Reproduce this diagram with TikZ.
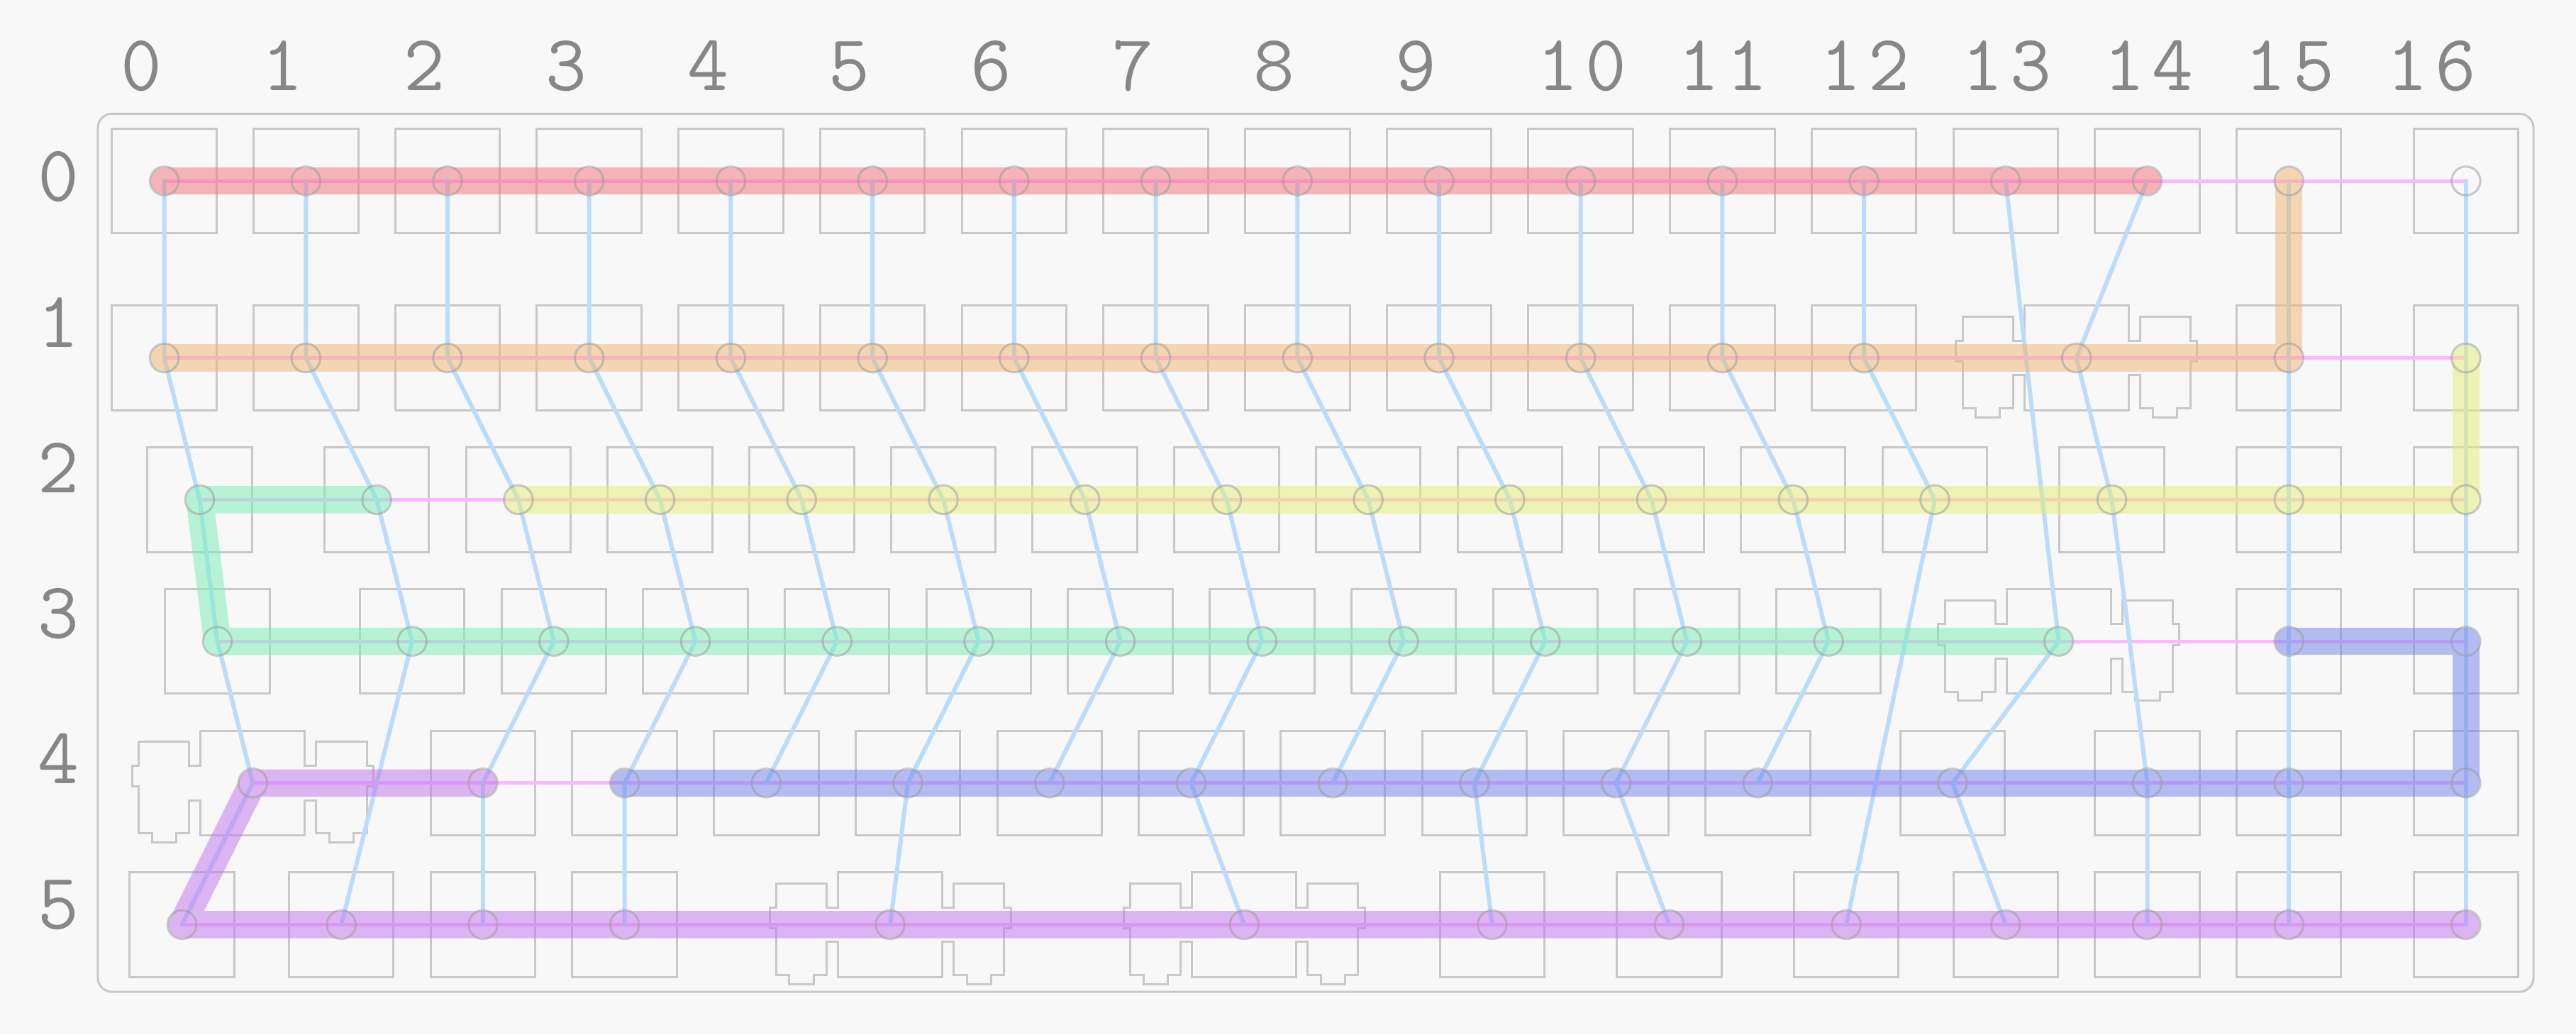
\documentclass[tikz,border=0pt]{standalone}
\usepackage{fontspec}
\newfontfamily\labfont[LetterSpace=9]{Latin Modern Mono}
\pgfdeclarelayer{wires}
\pgfdeclarelayer{pads}
\pgfsetlayers{main,wires,pads}

\definecolor{pagebg}{HTML}{F8F8F8}
\definecolor{labgray}{HTML}{878787}
\definecolor{linegray}{HTML}{999999}
\definecolor{rowpink}{HTML}{FBB8FB}
\definecolor{colblue}{HTML}{BBDCFB}
\definecolor{bandred}{HTML}{F0707A}
\definecolor{bandorange}{HTML}{F0B472}
\definecolor{bandyellow}{HTML}{E6EE74}
\definecolor{bandgreen}{HTML}{78EEB8}
\definecolor{bandindigo}{HTML}{7080EA}
\definecolor{bandpurple}{HTML}{C074EC}

\tikzset{
	keyline/.style={draw=linegray,draw opacity=.5,line width=.03cm},
	keybox/.style={keyline,rectangle,inner sep=0pt,minimum size=1.475cm},
	swpad/.style={keyline,circle,inner sep=0pt,minimum size=.405cm},
	plate/.style={draw=linegray,draw opacity=.5,line width=.03cm,rounded corners=.2cm},
	rowwire/.style={draw=rowpink,line width=.05cm,line cap=round},
	colwire/.style={draw=colblue,line width=.06cm,line cap=round,line join=round},
	band/.style={draw=#1,draw opacity=.5,line width=.385cm,line cap=round,line join=round},
	collab/.style={anchor=base west,inner sep=0pt,text=labgray,font=\labfont\fontsize{32}{32}\selectfont},
	rowlab/.style={anchor=base,inner sep=0pt,text=labgray,font=\ttfamily\fontsize{32}{32}\selectfont}
}

% Contorn d'una tecla amb estabilitzadors
\newcommand{\stabkey}[1]{
	\draw[keyline,shift={(#1)},x=.01cm,y=-.01cm]
	(-73.5,-73.7) -- (73.5,-73.7) -- (73.5,-24.3) -- (89.5,-24.3) -- (89.5,-58) -- (160.7,-58)
	-- (160.7,-24.3) -- (170,-24.3) -- (170,5) -- (160.7,5) -- (160.7,71) -- (142.4,71)
	-- (142.4,83.8) -- (108,83.8) -- (108,71) -- (89.5,71) -- (89.5,24.3) -- (73.5,24.3)
	-- (73.5,73.7) -- (-73.5,73.7) -- (-73.5,24.3) -- (-89.5,24.3) -- (-89.5,71) -- (-108,71)
	-- (-108,83.8) -- (-142.4,83.8) -- (-142.4,71) -- (-160.7,71) -- (-160.7,5) -- (-170,5)
	-- (-170,-24.3) -- (-160.7,-24.3) -- (-160.7,-58) -- (-89.5,-58) -- (-89.5,-24.3)
	-- (-73.5,-24.3) -- cycle;
}

\begin{document}
\begin{tikzpicture}[x=1.997cm,y=-1.997cm]
	
	% Fons i placa
	\fill[pagebg] (-1.1597,-1.2769) rectangle (17.027,6.024);
	\draw[plate] (-.469,-.474) rectangle (16.727,5.724);
	
	% Etiquetes de columna i de fila
	\foreach \cl in {0,...,16}
	\node[collab] (clabel\cl) at (\cl-.311,-.641) {\cl};
	\foreach \rw in {0,...,5}
	\node[rowlab] (rlabel\rw) at (-.749,{.145+1.0275*\rw}) {\rw};
	
	% Tecles quadrades amb el seu punt
	\foreach \rw/\ypos/\cols in {
		0/0/{0/0,1/1,2/2,3/3,4/4,5/5,6/6,7/7,8/8,9/9,10/10,11/11,12/12,13/13,14/14,15/15,16/16.25},
		1/1.25/{0/0,1/1,2/2,3/3,4/4,5/5,6/6,7/7,8/8,9/9,10/10,11/11,12/12,15/15,16/16.25},
		2/2.25/{0/.25,1/1.5,2/2.5,3/3.5,4/4.5,5/5.5,6/6.5,7/7.5,8/8.5,9/9.5,10/10.5,11/11.5,12/12.5,14/13.75,15/15,16/16.25},
		3/3.25/{0/.375,1/1.75,2/2.75,3/3.75,4/4.75,5/5.75,6/6.75,7/7.75,8/8.75,9/9.75,10/10.75,11/11.75,15/15,16/16.25},
		4/4.25/{2/2.25,3/3.25,4/4.25,5/5.25,6/6.25,7/7.25,8/8.25,9/9.25,10/10.25,11/11.25,13/12.625,14/14,15/15,16/16.25},
		5/5.25/{0/.125,1/1.25,2/2.25,3/3.25,9/9.375,10/10.625,12/11.875,13/13,14/14,15/15,16/16.25}}
	{
		\foreach \cl/\xpos in \cols
		{
			\node[keybox] (k\rw-\cl) at (\xpos,\ypos) {};
			\begin{pgfonlayer}{pads}
				\node[swpad] (m\rw-\cl) at (\xpos,\ypos) {};
			\end{pgfonlayer}
		}
	}
	
	% Tecles amb estabilitzadors
	\foreach \rw/\ypos/\cl/\xpos in {1/1.25/14/13.5,3/3.25/13/13.375,4/4.25/0/.625,5/5.25/5/5.125,5/5.25/7/7.625}
	{
		\begin{pgfonlayer}{pads}
			\node[swpad] (m\rw-\cl) at (\xpos,\ypos) {};
		\end{pgfonlayer}
		\stabkey{m\rw-\cl}
	}
	
	\begin{pgfonlayer}{wires}
		
		% Files
		\foreach \rw in {0,...,5}
		\draw[rowwire] (m\rw-0.center) -- (m\rw-16.center);
		
		% Columnes
		\foreach \cl/\rows in {0/{1,2,3,4,5},1/{1,2,3,5},2/{1,2,3,4,5},3/{1,2,3,4,5},4/{1,2,3,4},
			5/{1,2,3,4,5},6/{1,2,3,4},7/{1,2,3,4,5},8/{1,2,3,4},9/{1,2,3,4,5},10/{1,2,3,4,5},
			11/{1,2,3,4},12/{1,2,5},13/{3,4,5},14/{1,2,4,5},15/{1,2,3,4,5},16/{1,2,3,4,5}}
		\draw[colwire] (m0-\cl.center) foreach \rw in \rows {-- (m\rw-\cl.center)};
		
		% Trams gruixuts
		\draw[band=bandred] (m0-0.center) -- (m0-14.center);
		\draw[band=bandorange] (m1-0.center) -- (m1-15.center) -- (m0-15.center);
		\draw[band=bandyellow] (m2-2.center) -- (m2-16.center) -- (m1-16.center);
		\draw[band=bandgreen] (m2-1.center) -- (m2-0.center) -- (m3-0.center) -- (m3-13.center);
		\draw[band=bandindigo] (m3-15.center) -- (m3-16.center) -- (m4-16.center) -- (m4-3.center);
		\draw[band=bandpurple] (m4-2.center) -- (m4-0.center) -- (m5-0.center) -- (m5-16.center);
		
	\end{pgfonlayer}
	
\end{tikzpicture}
\end{document}
